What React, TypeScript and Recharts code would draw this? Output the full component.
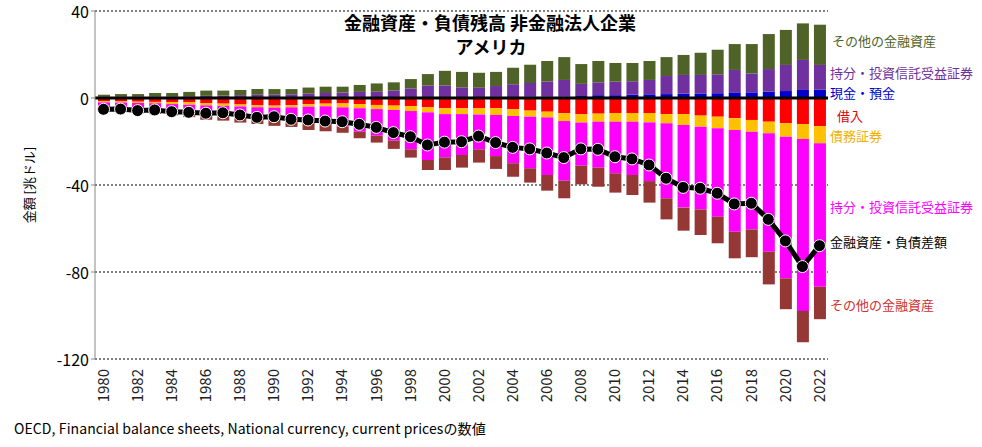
import React from "react";
import {
  ComposedChart,
  Bar,
  Line,
  XAxis,
  YAxis,
  CartesianGrid,
  ReferenceLine,
} from "recharts";

// 1980-2022, 兆ドル
const years = [
  "1980", "1981", "1982", "1983", "1984", "1985", "1986", "1987", "1988", "1989",
  "1990", "1991", "1992", "1993", "1994", "1995", "1996", "1997", "1998", "1999",
  "2000", "2001", "2002", "2003", "2004", "2005", "2006", "2007", "2008", "2009",
  "2010", "2011", "2012", "2013", "2014", "2015", "2016", "2017", "2018", "2019",
  "2020", "2021", "2022",
];

// 資産
const cashDeposits = [
  0.2, 0.2, 0.2, 0.2, 0.2, 0.2, 0.2, 0.2, 0.2, 0.2,
  0.2, 0.2, 0.2, 0.2, 0.2, 0.2, 0.2, 0.3, 0.3, 0.3,
  0.3, 0.4, 0.4, 0.5, 0.5, 0.6, 0.6, 0.7, 0.9, 1.3,
  1.3, 1.5, 1.7, 1.8, 2.0, 2.1, 2.2, 2.6, 2.6, 2.9,
  3.2, 3.7, 3.8,
];
const equityAssets = [
  0.4, 0.4, 0.4, 0.5, 0.5, 0.6, 0.8, 0.9, 1.1, 1.3,
  1.3, 1.5, 1.8, 2.1, 2.3, 2.6, 2.7, 3.1, 4.1, 5.4,
  5.4, 4.5, 4.3, 5.0, 5.8, 6.3, 7.0, 7.6, 5.6, 5.9,
  6.2, 6.2, 6.6, 8.3, 8.6, 8.5, 8.7, 10.3, 8.7, 10.4,
  12.0, 13.8, 11.4,
];
const otherAssets = [
  0.9, 1.2, 1.2, 1.6, 1.6, 2.0, 2.4, 2.3, 2.4, 2.6,
  2.6, 2.4, 2.8, 2.9, 2.7, 3.2, 3.8, 3.8, 4.3, 5.3,
  6.8, 7.1, 6.9, 6.5, 7.6, 8.4, 9.4, 10.5, 9.1, 9.8,
  8.6, 8.4, 8.7, 8.7, 9.2, 10.2, 11.3, 11.9, 13.5, 16.1,
  16.1, 16.8, 18.5,
];

// 負債
const loans = [
  -1.5, -1.6, -1.7, -1.8, -1.9, -2.0, -2.3, -2.6, -3.0, -3.3,
  -3.5, -3.3, -2.9, -2.6, -2.5, -2.8, -3.2, -3.5, -3.7, -4.3,
  -4.7, -4.7, -4.7, -4.7, -5.2, -5.8, -6.3, -7.0, -7.5, -7.2,
  -6.9, -6.9, -6.9, -7.4, -7.4, -8.1, -8.6, -9.3, -10.1, -10.9,
  -11.6, -12.0, -12.9,
];
const debtSecurities = [
  -0.5, -0.5, -0.6, -0.6, -0.9, -1.1, -1.1, -1.0, -0.9, -0.9,
  -0.9, -1.0, -1.1, -1.2, -1.8, -1.9, -1.9, -2.0, -2.3, -2.3,
  -2.7, -2.7, -2.9, -3.1, -3.1, -2.8, -2.6, -3.6, -3.8, -3.7,
  -4.0, -4.0, -4.3, -4.2, -5.0, -5.1, -5.3, -5.4, -5.4, -5.3,
  -6.2, -6.9, -7.9,
];
const equityLiabilities = [
  -2.5, -2.2, -2.5, -2.6, -2.7, -3.1, -3.6, -3.7, -4.1, -4.4,
  -4.6, -5.3, -6.6, -7.5, -8.9, -10.8, -12.2, -14.1, -17.6, -21.9,
  -19.9, -18.8, -16.0, -18.9, -21.7, -23.7, -26.5, -27.4, -19.8, -21.1,
  -23.7, -24.5, -27.0, -34.5, -38.0, -38.0, -40.7, -46.8, -44.9, -54.5,
  -65.1, -79.0, -66.0,
];
const otherLiabilities = [
  -2.0, -2.2, -2.2, -2.3, -2.5, -2.6, -3.0, -3.1, -3.3, -3.4,
  -3.8, -3.7, -4.1, -4.0, -2.8, -3.0, -3.2, -3.8, -3.8, -4.6,
  -5.8, -5.8, -6.1, -5.9, -6.2, -6.6, -7.2, -8.1, -8.6, -8.8,
  -8.9, -9.2, -9.9, -9.7, -10.6, -11.8, -12.2, -12.2, -12.8, -15.0,
  -14.2, -14.4, -14.9,
];

// 金融資産・負債差額
const netPosition = [
  -5.2, -5.1, -5.8, -5.5, -6.3, -6.6, -7.0, -6.8, -7.8, -8.9,
  -8.6, -9.8, -10.1, -10.6, -10.9, -12.1, -13.5, -15.9, -17.8, -21.6,
  -20.3, -20.1, -17.5, -20.5, -22.7, -23.4, -25.3, -27.4, -23.4, -23.6,
  -27.0, -28.0, -30.8, -36.9, -41.1, -41.5, -43.8, -48.7, -48.4, -55.8,
  -65.7, -77.5, -67.9,
];

const yTicks = [40, 0, -40, -80, -120];

const rows = years.map((year, i) => ({
  year,
  cash: cashDeposits[i],
  eqA: equityAssets[i],
  othA: otherAssets[i],
  loan: loans[i],
  debt: debtSecurities[i],
  eqL: equityLiabilities[i],
  othL: otherLiabilities[i],
  net: netPosition[i],
}));

const FONT = "'Noto Sans CJK JP', 'Noto Sans', sans-serif";

const YearTick = (props: any) => {
  const { x, y, payload } = props;
  const ty = y + 2;
  return (
    <text
      x={x}
      y={ty}
      transform={`rotate(-90, ${x}, ${ty})`}
      textAnchor="end"
      dy="0.35em"
      fontSize={15}
      fontFamily={FONT}
      fill="#222"
    >
      {payload.value}
    </text>
  );
};

const sideLabels = [
  { text: "その他の金融資産", color: "#4F6228", left: 832, top: 41 },
  { text: "持分・投資信託受益証券", color: "#7030A0", left: 830, top: 73 },
  { text: "現金・預金", color: "#0000CC", left: 830, top: 93 },
  { text: "借入", color: "#E00000", left: 837, top: 116 },
  { text: "債務証券", color: "#F0B000", left: 830, top: 136 },
  { text: "持分・投資信託受益証券", color: "#FF00FF", left: 830, top: 207 },
  { text: "金融資産・負債差額", color: "#000000", left: 830, top: 242 },
  { text: "その他の金融資産", color: "#D03030", left: 830, top: 305 },
];

export default function App() {
  return (
    <div
      style={{
        position: "absolute",
        left: 0,
        top: 0,
        width: 982,
        height: 447,
        background: "#fff",
        fontFamily: FONT,
      }}
    >
      <ComposedChart
        width={982}
        height={447}
        data={rows}
        stackOffset="sign"
        barSize={12}
        margin={{ top: 11, right: 154, left: 35, bottom: 28 }}
        style={{ overflow: "visible" }}
      >
        <CartesianGrid
          vertical={false}
          stroke="#000"
          strokeDasharray="2 2"
        />
        <XAxis
          dataKey="year"
          interval={1}
          axisLine={false}
          tickLine={false}
          height={60}
          tick={<YearTick />}
        />
        <YAxis
          domain={[-120, 40]}
          ticks={yTicks}
          width={60}
          stroke="#888"
          tickSize={4}
          tick={{ fill: "#000", fontSize: 16, fontFamily: FONT, dy: 1 }}
        />
        <Bar dataKey="cash" stackId="a" fill="#0000CC" isAnimationActive={false} />
        <Bar dataKey="eqA" stackId="a" fill="#7030A0" isAnimationActive={false} />
        <Bar dataKey="othA" stackId="a" fill="#4F6228" isAnimationActive={false} />
        <Bar dataKey="loan" stackId="a" fill="#FF0000" isAnimationActive={false} />
        <Bar dataKey="debt" stackId="a" fill="#FFC000" isAnimationActive={false} />
        <Bar dataKey="eqL" stackId="a" fill="#FF00FF" isAnimationActive={false} />
        <Bar dataKey="othL" stackId="a" fill="#953735" isAnimationActive={false} />
        <ReferenceLine y={0} stroke="#000" strokeWidth={3} />
        <Line
          dataKey="net"
          stroke="#000"
          strokeWidth={5}
          dot={{ r: 6, fill: "#000", stroke: "#fff", strokeWidth: 1 }}
          isAnimationActive={false}
        />
      </ComposedChart>

      <div
        style={{
          position: "absolute",
          left: 0,
          width: 982,
          top: 10,
          textAlign: "center",
          fontSize: 18,
          fontWeight: 700,
          lineHeight: "24px",
          color: "#000",
        }}
      >
        <div style={{ marginLeft: -2 }}>金融資産・負債残高 非金融法人企業</div>
        <div>アメリカ</div>
      </div>

      <div
        style={{
          position: "absolute",
          left: 28,
          top: 185,
          transform: "translate(-50%, -50%) rotate(-90deg)",
          fontSize: 13,
          whiteSpace: "nowrap",
          color: "#000",
        }}
      >
        金額 [兆ドル]
      </div>

      {sideLabels.map((l) => (
        <div
          key={l.text + l.top}
          style={{
            position: "absolute",
            left: l.left,
            top: l.top,
            transform: "translateY(-50%)",
            fontSize: 13,
            lineHeight: "14px",
            color: l.color,
            whiteSpace: "nowrap",
          }}
        >
          {l.text}
        </div>
      ))}

      <div
        style={{
          position: "absolute",
          left: 14,
          top: 428,
          transform: "translateY(-50%)",
          fontSize: 14,
          lineHeight: "16px",
          color: "#000",
          whiteSpace: "nowrap",
          letterSpacing: 0.1,
        }}
      >
        OECD, Financial balance sheets, National currency, current pricesの数値
      </div>
    </div>
  );
}
